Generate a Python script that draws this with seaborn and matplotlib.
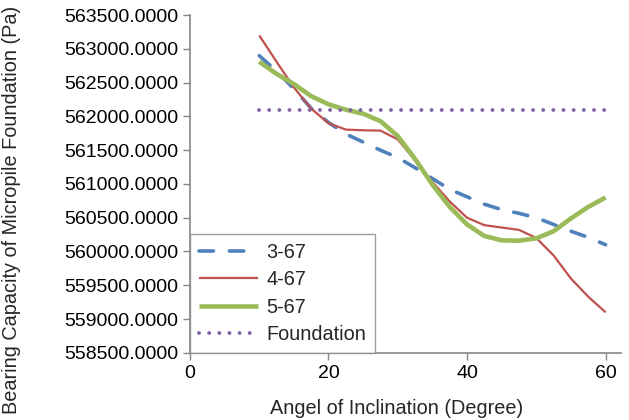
import matplotlib.pyplot as plt
import seaborn as sns
import pandas as pd
import numpy as np
from matplotlib.ticker import FormatStrFormatter

# Data (degrees vs Pa)
angle = [10, 12.5, 15, 17.5, 20, 22.5, 25, 27.5, 30, 32.5, 35, 37.5,
         40, 42.5, 45, 47.5, 50, 52.5, 55, 57.5, 60]
cap_3_67 = [562900, 562670, 562410, 562120, 561910, 561740, 561620, 561500,
            561390, 561240, 561080, 560920, 560810, 560700, 560620, 560565,
            560500, 560400, 560300, 560210, 560100]
cap_4_67 = [563200, 562810, 562430, 562115, 561900, 561805, 561795, 561790,
            561660, 561350, 561030, 560740, 560500, 560390, 560355, 560320,
            560200, 559940, 559600, 559330, 559100]
cap_5_67 = [562810, 562630, 562480, 562300, 562180, 562100, 562040, 561930,
            561710, 561370, 560990, 560660, 560400, 560230, 560165, 560160,
            560195, 560300, 560490, 560660, 560800]
foundation = [562100] * len(angle)

series = [
    ("3-67", cap_3_67, "#4F81BD", 2.6, (0, (4.0, 4.4))),
    ("4-67", cap_4_67, "#C0504D", 1.6, "-"),
    ("5-67", cap_5_67, "#9BBB59", 3.3, "-"),
    ("Foundation", foundation, "#8064A2", 2.8, (0, (0.01, 2.6))),
]

sns.set_theme(style="ticks")
plt.rcParams['font.family'] = ['Liberation Sans', 'DejaVu Sans']

fig = plt.figure(figsize=(6.29, 4.2), dpi=100)
ax = fig.add_axes([0.302, 0.160, 0.685, 0.804])

for name, vals, color, lw, ls in series:
    sns.lineplot(x=angle, y=vals, color=color, linewidth=lw, linestyle=ls,
                 dash_capstyle='round', solid_capstyle='butt',
                 label=name, ax=ax)

ax.set_xlim(0, 62.2)
ax.set_ylim(558500, 563500)
ax.set_xticks([0, 20, 40, 60])
ax.set_yticks(np.arange(558500, 563501, 500))
ax.yaxis.set_major_formatter(FormatStrFormatter('%.4f'))
ax.tick_params(axis='both', labelsize=14, color='#868686', length=5,
               width=1, direction='out', labelcolor='black')
for side in ['top', 'right']:
    ax.spines[side].set_visible(False)
for side in ['left', 'bottom']:
    ax.spines[side].set_color('#868686')
    ax.spines[side].set_linewidth(1.2)

ax.set_xlabel('Angel of Inclination (Degree)', fontsize=14.3)
ax.set_ylabel('Bearing Capacity of Micropile Foundation (Pa)', fontsize=14.3)
ax.xaxis.set_label_coords(0.479, -0.137)
ax.xaxis.label.set_va('top')
ax.yaxis.set_label_coords(-0.392, 0.423)

leg = ax.legend(loc='lower left', borderaxespad=0, fancybox=False,
                handlelength=3.0, fontsize=14.3, labelspacing=0.42,
                borderpad=0.45, handletextpad=0.4)
leg.get_frame().set_edgecolor('#868686')
leg.get_frame().set_linewidth(1.0)

plt.savefig('out.png', dpi=100)
plt.close()
